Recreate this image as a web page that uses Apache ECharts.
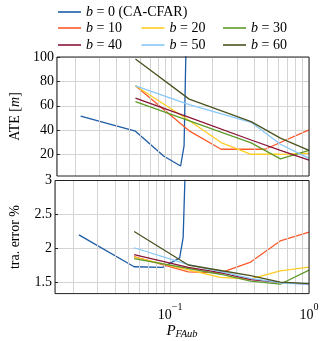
<!DOCTYPE html>
<html><head><meta charset="utf-8">
<script src="https://cdn.jsdelivr.net/npm/echarts@6/dist/echarts.min.js"></script>
<style>html,body{margin:0;padding:0;background:#fff}#c{width:324px;height:341px}</style>
</head><body><div id="c"></div>
<script>
// ---- data ----
const seriesNames = ['b = 0 (CA-CFAR)', 'b = 10', 'b = 20', 'b = 30', 'b = 40', 'b = 50', 'b = 60'];
const colors = ['#1d5ca6', '#fa5a2a', '#ffcc22', '#5f9b2a', '#8a1538', '#88c8f8', '#4b5320'];

// CA-CFAR (b = 0) has its own P_FA points
const pfaB0 = [0.022, 0.055, 0.088, 0.117, 0.124, 0.1285];
const ateB0 = [51.5, 39.2, 18.9, 10.7, 27.4, 118];
const errB0 = [2.2, 1.73, 1.72, 1.86, 2.16, 3.21];

// shared P_FA points for b = 10..60 (null = no point read there)
const pfa = [0.055, 0.135, 0.23, 0.38, 0.48, 0.62, 1.0];
const ateB10 = [76.4, 39.5, 24.4, null, 24.4, null, 40.3];
const ateB20 = [76.4, 48, 29.9, 20.3, null, 20.3, 21];
const ateB30 = [63.5, null, null, 29.6, null, 16.5, 23.5];
const ateB40 = [66.3, 50.5, null, 32, null, 23.5, 15.6];
const ateB50 = [76.4, 61, null, 46.5, null, 28.5, 17];
const ateB60 = [98.4, 65.5, null, 47.1, null, 33.5, 23.5];

const errB10 = [1.88, 1.655, 1.64, 1.80, null, 2.11, 2.24];
const errB20 = [1.873, null, 1.575, 1.55, null, 1.67, 1.725];
const errB30 = [1.85, null, 1.62, 1.52, null, 1.473, 1.68];
const errB40 = [1.91, 1.72, 1.645, 1.54, null, 1.50, 1.475];
const errB50 = [2.01, 1.76, 1.66, 1.56, null, 1.495, 1.473];
const errB60 = [2.25, 1.756, 1.675, 1.60, null, 1.505, 1.482];

const ateTicks = [20, 40, 60, 80, 100];
const errTicks = [1.5, 2, 2.5, 3];
const minorX = [0.02, 0.03, 0.04, 0.05, 0.06, 0.07, 0.08, 0.09, 0.2, 0.3, 0.4, 0.5, 0.6, 0.7, 0.8, 0.9];

// ---- build ----
const FONT = 'Liberation Serif';
const pairs = (xs, ys) => xs.map((x, i) => [x, ys[i]]).filter(p => p[1] != null);
const ateAll = [pairs(pfaB0, ateB0), pairs(pfa, ateB10), pairs(pfa, ateB20), pairs(pfa, ateB30), pairs(pfa, ateB40), pairs(pfa, ateB50), pairs(pfa, ateB60)];
const errAll = [pairs(pfaB0, errB0), pairs(pfa, errB10), pairs(pfa, errB20), pairs(pfa, errB30), pairs(pfa, errB40), pairs(pfa, errB50), pairs(pfa, errB60)];

const GRID_C = '#d4d4d4';
const XMIN = 0.0148;

function gridSeries(ax) {
  return {
    type: 'line', xAxisIndex: ax, yAxisIndex: ax, data: [], silent: true, z: 1,
    markLine: {
      silent: true, symbol: ['none', 'none'], label: {show: false}, animation: false,
      lineStyle: {color: GRID_C, type: 'solid', width: 1},
      emphasis: {disabled: true},
      data: minorX.map(v => ({xAxis: v}))
    }
  };
}

const series = [gridSeries(0), gridSeries(1)];
seriesNames.forEach((n, i) => {
  [ateAll, errAll].forEach((d, g) => {
    series.push({
      name: n, type: 'line', xAxisIndex: g, yAxisIndex: g, data: d[i],
      showSymbol: false, symbol: 'none', color: colors[i], z: 3 + i,
      lineStyle: {width: 1.3, color: colors[i]}, clip: true
    });
  });
});

const legendPos = [[58, 4], [58, 20], [141.5, 20], [223, 20], [58, 37], [141.5, 37], [223, 37]];
const legends = seriesNames.map((n, i) => ({
  data: [n], left: legendPos[i][0], top: legendPos[i][1], orient: 'horizontal',
  icon: 'rect', itemWidth: 23, itemHeight: 1.6, itemGap: 0, itemTextGap: 4, padding: 0,
  selectedMode: false,
  formatter: name => '{i|b}' + name.slice(1),
  textStyle: {fontFamily: FONT, fontSize: 14, color: '#000', lineHeight: 16,
    rich: {i: {fontFamily: FONT, fontStyle: 'italic', fontSize: 14, color: '#000'}}}
}));

const supRich = {
  b: {fontFamily: FONT, fontSize: 14, color: '#000', lineHeight: 20, verticalAlign: 'bottom'},
  s: {fontFamily: FONT, fontSize: 10, color: '#000', lineHeight: 10, verticalAlign: 'top'}
};

function xFmt(v) {
  const l = Math.log10(v), e = Math.round(l);
  if (Math.abs(l - e) > 1e-6) return '';
  return '{b|10}{s|' + (e < 0 ? '\u2212' + (-e) : e) + '}';
}

const option = {
  animation: false,
  backgroundColor: '#fff',
  legend: legends,
  grid: [
    {left: 53, top: 57, width: 256, height: 119, show: true, borderColor: '#222', borderWidth: 1, backgroundColor: 'transparent', z: 10},
    {left: 53, top: 180.5, width: 256, height: 118, show: true, borderColor: '#222', borderWidth: 1, backgroundColor: 'transparent', z: 10}
  ],
  xAxis: [
    {type: 'log', logBase: 10, gridIndex: 0, min: XMIN, max: 1,
      axisLine: {show: false}, axisTick: {show: false}, axisLabel: {show: false},
      splitLine: {show: true, lineStyle: {color: GRID_C, width: 1}}},
    {type: 'log', logBase: 10, gridIndex: 1, min: XMIN, max: 1,
      axisLine: {show: false}, axisTick: {show: false},
      axisLabel: {formatter: xFmt, margin: 9, showMinLabel: false, rich: supRich, fontFamily: FONT, fontSize: 14, color: '#000'},
      splitLine: {show: true, lineStyle: {color: GRID_C, width: 1}},
      name: '{p|P}{u|FAub}', nameLocation: 'middle', nameGap: 22,
      nameTextStyle: {rich: {
        p: {fontFamily: FONT, fontStyle: 'italic', fontSize: 15, color: '#000', lineHeight: 18, verticalAlign: 'middle'},
        u: {fontFamily: FONT, fontStyle: 'italic', fontSize: 10.5, color: '#000', lineHeight: 8, verticalAlign: 'bottom'}
      }}}
  ],
  yAxis: [
    {type: 'value', gridIndex: 0, min: 2.5, max: 100,
      axisLine: {show: false},
      axisTick: {show: true, inside: true, length: 3, customValues: ateTicks, lineStyle: {color: '#222'}},
      axisLabel: {customValues: ateTicks, fontFamily: FONT, fontSize: 14, color: '#000', margin: 3},
      splitLine: {show: true, lineStyle: {color: GRID_C, width: 1}},
      name: 'ATE [{i|m}]', nameLocation: 'middle', nameGap: 33,
      nameTextStyle: {fontFamily: FONT, fontSize: 14, color: '#000',
        rich: {i: {fontFamily: FONT, fontStyle: 'italic', fontSize: 14, color: '#000'}}}},
    {type: 'value', gridIndex: 1, min: 1.335, max: 3,
      axisLine: {show: false},
      axisTick: {show: true, inside: true, length: 3, customValues: errTicks, lineStyle: {color: '#222'}},
      axisLabel: {customValues: errTicks, fontFamily: FONT, fontSize: 14, color: '#000', margin: 3},
      splitLine: {show: true, lineStyle: {color: GRID_C, width: 1}},
      name: 'tra. error %', nameLocation: 'middle', nameGap: 33,
      nameTextStyle: {fontFamily: FONT, fontSize: 14, color: '#000'}}
  ],
  series: series
};

const chart = echarts.init(document.getElementById('c'), null, {renderer: 'canvas'});
chart.setOption(option);
</script>
</body></html>
